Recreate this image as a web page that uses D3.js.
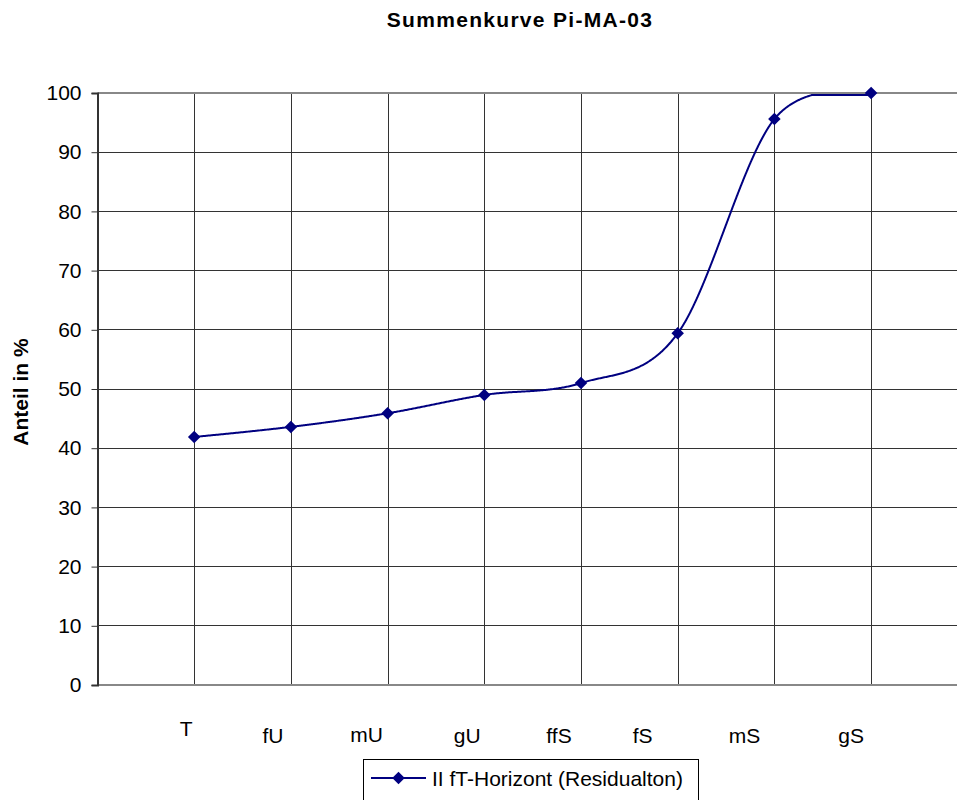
<!DOCTYPE html>
<html>
<head>
<meta charset="utf-8">
<script src="https://cdn.jsdelivr.net/npm/d3@7"></script>
<style>
  html, body { margin: 0; padding: 0; background: #fff; }
  svg { display: block; }
  text { font-family: "Liberation Sans", Arial, sans-serif; fill: #000; }
</style>
</head>
<body>
<svg id="chart" width="957" height="800"></svg>
<script>
// Grain-size classes (cumulative curve)
const categories = ["T", "fU", "mU", "gU", "ffS", "fS", "mS", "gS"];
const cumulative = [41.9, 43.6, 45.9, 49.0, 51.0, 59.4, 95.6, 100];
const yTicks = [0, 10, 20, 30, 40, 50, 60, 70, 80, 90, 100];
const seriesName = "II fT-Horizont (Residualton)";
const chartTitle = "Summenkurve Pi-MA-03";
const yTitle = "Anteil in %";

// Hand-placed category captions: offsets from each class position
const labelDx = [-8, -18, -21, -17, -22, -35, -30, -20];
const labelDy = [-7, 0, -1, 0, 0, 0, 0, 0];

const svg = d3.select("#chart");
const plotLeft = 97.5, plotTop = 93, plotBottom = 685, step = 96.7;
const W = 957;

const x = d3.scaleLinear().domain([0, categories.length + 1])
  .range([plotLeft, plotLeft + step * (categories.length + 1)]);
const y = d3.scaleLinear().domain([0, 100]).range([plotBottom, plotTop]);

// horizontal gridlines
svg.append("g").selectAll("line").data(yTicks.filter(d => d > 0 && d < 100)).join("line")
  .attr("x1", plotLeft).attr("x2", W).attr("y1", d => y(d)).attr("y2", d => y(d))
  .attr("stroke", "#333").attr("stroke-width", 1).attr("shape-rendering", "crispEdges");

// vertical gridlines at each class
svg.append("g").selectAll("line").data(categories).join("line")
  .attr("x1", (d, i) => Math.round(x(i + 1)) + 0.5).attr("x2", (d, i) => Math.round(x(i + 1)) + 0.5)
  .attr("y1", plotTop).attr("y2", plotBottom)
  .attr("stroke", "#333").attr("stroke-width", 1);

// plot frame (top and bottom)
svg.append("line").attr("x1", plotLeft).attr("x2", W).attr("y1", y(100)).attr("y2", y(100))
  .attr("stroke", "#888").attr("stroke-width", 2);
svg.append("line").attr("x1", plotLeft).attr("x2", W).attr("y1", y(0)).attr("y2", y(0))
  .attr("stroke", "#888").attr("stroke-width", 2);

// y axis
const yAxis = d3.axisLeft(y).tickValues(yTicks).tickSize(6).tickPadding(10);
const ga = svg.append("g").attr("transform", `translate(${plotLeft},0)`).call(yAxis);
ga.select(".domain").attr("stroke", "#333").attr("stroke-width", 2);
ga.selectAll(".tick line").attr("stroke", "#333");
ga.selectAll(".tick text").attr("font-size", 21).attr("font-family", "Liberation Sans, Arial, sans-serif");

// smoothed cumulative line: uniform Catmull-Rom, flattened where it would
// leave the plot area at the top
const pts = cumulative.map((v, i) => [x(i + 1), y(v)]);
const guide = svg.append("path").datum(pts)
  .attr("d", d3.line().curve(d3.curveCardinal.tension(0)))
  .attr("fill", "none").attr("stroke", "none");
const node = guide.node();
const total = node.getTotalLength();
const innerTop = plotTop + 2;
const sampled = d3.range(0, total, 1).concat([total]).map(l => {
  const p = node.getPointAtLength(l);
  return [p.x, Math.max(p.y, innerTop)];
});
guide.remove();
svg.append("path").datum(sampled)
  .attr("d", d3.line())
  .attr("fill", "none").attr("stroke", "#000080").attr("stroke-width", 2)
  .attr("stroke-linejoin", "round");

const diamond = d3.symbol().type(d3.symbolDiamond2).size(100);
svg.append("g").selectAll("path").data(pts).join("path")
  .attr("transform", d => `translate(${d[0]},${d[1]})`)
  .attr("d", diamond).attr("fill", "#000080");

// category captions
svg.append("g").selectAll("text").data(categories).join("text")
  .attr("x", (d, i) => x(i + 1) + labelDx[i])
  .attr("y", (d, i) => 743 + labelDy[i])
  .attr("text-anchor", "middle").attr("font-size", 21)
  .text(d => d);

// title
svg.append("text").attr("x", 520).attr("y", 27).attr("text-anchor", "middle")
  .attr("font-size", 21).attr("font-weight", "bold").attr("letter-spacing", 1.3)
  .text(chartTitle);

// y axis title
svg.append("text").attr("transform", "translate(28,392) rotate(-90)")
  .attr("text-anchor", "middle").attr("font-size", 21).attr("font-weight", "bold")
  .text(yTitle);

// legend
const lg = svg.append("g");
lg.append("rect").attr("x", 363.5).attr("y", 759.5).attr("width", 335).attr("height", 60)
  .attr("fill", "#fff").attr("stroke", "#000").attr("stroke-width", 1);
lg.append("line").attr("x1", 371).attr("x2", 426).attr("y1", 778).attr("y2", 778)
  .attr("stroke", "#000080").attr("stroke-width", 2);
lg.append("path").attr("transform", "translate(398.5,778)").attr("d", diamond).attr("fill", "#000080");
lg.append("text").attr("x", 432).attr("y", 786).attr("font-size", 21).text(seriesName);
</script>
</body>
</html>
